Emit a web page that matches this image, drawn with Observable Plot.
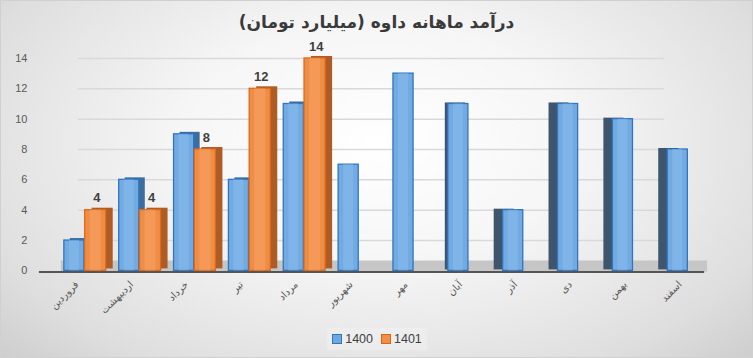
<!DOCTYPE html>
<html><head><meta charset="utf-8">
<script src="https://cdn.jsdelivr.net/npm/d3@7"></script>
<script src="https://cdn.jsdelivr.net/npm/@observablehq/plot@0.6"></script>
<style>
html,body{margin:0;padding:0;}
#wrap{position:relative;width:751px;height:356px;border:1px solid #d0d0d0;overflow:hidden;
 background:radial-gradient(ellipse 75% 95% at 50% 40%, #ffffff 0%, #f6f6f6 35%, #dedede 75%, #c6c6c6 100%);
 font-family:"Liberation Sans","DejaVu Sans",sans-serif;}
#title{position:absolute;top:11px;left:0;width:751px;text-align:center;font-size:17px;font-weight:bold;color:#3a3a3a;direction:rtl;font-family:"DejaVu Sans",sans-serif;}
#chart{position:absolute;top:40px;left:0;}
#chart svg{overflow:visible;}
#legend{position:absolute;top:327px;left:326px;width:100px;height:22px;display:flex;align-items:center;justify-content:center;gap:8px;font-size:12.5px;color:#404040;background:rgba(240,240,240,0.6);}
.sw{display:inline-block;width:8px;height:8px;margin-right:3px;vertical-align:-1px;}
</style></head>
<body>
<div id="wrap">
<div id="title">درآمد ماهانه داوه (میلیارد تومان)</div>
<div id="chart"></div>
<div id="legend"><span><span class="sw" style="background:#6fa8e0;border:1px solid #2f75c0"></span>1400</span><span><span class="sw" style="background:#f28f45;border:1px solid #d9651a"></span>1401</span></div>
</div>
<script>
const months = ["فروردین","اردیبهشت","خرداد","تیر","مرداد","شهریور","مهر","آبان","آذر","دی","بهمن","اسفند"];
const v1400 = [2,6,9,6,11,7,13,11,4,11,10,8];
const v1401 = [4,4,8,12,14];
const yTicks = [0,2,4,6,8,10,12,14];

const blue = months.map((m,i)=>({month:m, i, value:v1400[i]}));
const orange = v1401.map((v,i)=>({month:months[i], i, value:v}));

const W = 753, ML = 52, MR = 33;
const step = (W - ML - MR) / months.length;
const half = step/2;

const chart = Plot.plot({
  width: W, height: 285,
  marginLeft: ML, marginRight: MR, marginTop: 17, marginBottom: 55,
  style: {background: "transparent", fontFamily: "'Liberation Sans','DejaVu Sans',sans-serif"},
  x: {type: "band", domain: months, padding: 0, label: null},
  y: {domain: [0, 14], label: null},
  marks: [
    Plot.ruleY(yTicks.filter(d=>d>0), {stroke: "#d9d9d9", strokeWidth: 1.5, insetLeft: 25, insetRight: 55}),
    Plot.ruleY([0], {stroke: "#c6c6c6", strokeWidth: 11, dy: -5, insetLeft: 8, insetRight: 12}),
    Plot.ruleY([0], {stroke: "#555", strokeWidth: 2, insetLeft: -14, insetRight: 15, dy: 1}),
    Plot.axisY({ticks: yTicks, tickSize: 0, tickPadding: 26, fontSize: 11, color: "#595959", label: null}),
    Plot.axisX({tickRotate: -45, tickSize: 0, tickPadding: 12, dx: -8, fontSize: 10, color: "#595959", label: null, fontFamily: "DejaVu Sans"}),
    // blue side faces
    Plot.barY(blue.filter(d=>d.i<5), {x: "month", y: "value", insetLeft: 7, insetRight: half, dx: 6, dy: -2, fill: "#3d6d9e"}),
    Plot.barY(blue.filter(d=>d.i>=8), {x: "month", y: "value", insetLeft: 7, insetRight: half, dx: -9, dy: -1, fill: "#3f556d"}),
    Plot.barY(blue.filter(d=>d.i==7), {x: "month", y: "value", insetLeft: 7, insetRight: half, dx: -3, dy: -1, fill: "#3f556d"}),
    // blue bars
    Plot.barY(blue, {x: "month", y: "value", insetLeft: 7, insetRight: half, fill: "#72aae2", stroke: "#2f75c0", strokeWidth: 1.3}),
    Plot.barY(blue, {x: "month", y: "value", insetLeft: 12, insetRight: half + 5, fill: "#8cbef0", fillOpacity: 0.5}),
    // orange side faces
    Plot.barY(orange, {x: "month", y: "value", insetLeft: half, insetRight: 6, dx: 7, dy: -2, fill: "#ad5c26"}),
    // orange bars
    Plot.barY(orange, {x: "month", y: "value", insetLeft: half, insetRight: 6, fill: "#f08d45", stroke: "#dc6a1e", strokeWidth: 1.3}),
    Plot.barY(orange, {x: "month", y: "value", insetLeft: half + 5, insetRight: 11, fill: "#f7a56a", fillOpacity: 0.5}),
    Plot.text(orange, {x: "month", y: "value", text: d => String(d.value), dx: 12, dy: -12, fontSize: 13, fontWeight: "bold", fill: "#404040"})
  ]
});
document.getElementById("chart").appendChild(chart);
</script>
</body></html>
